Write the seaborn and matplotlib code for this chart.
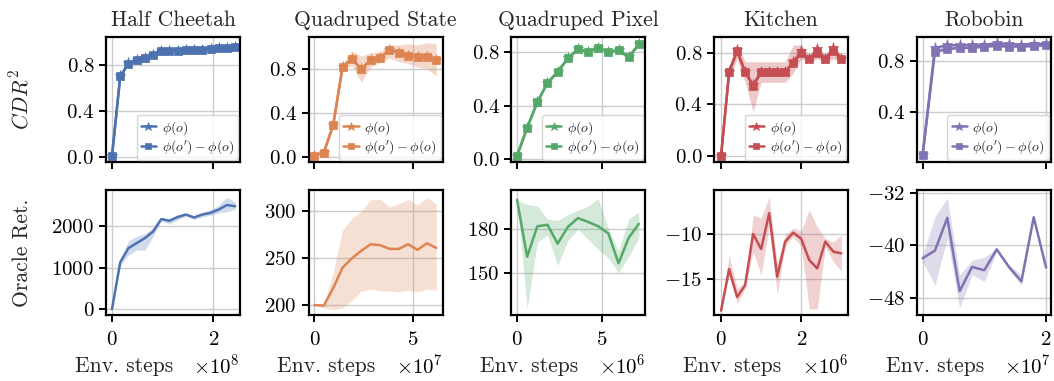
import matplotlib
matplotlib.use("Agg")
import matplotlib.pyplot as plt
from matplotlib.ticker import MultipleLocator
import seaborn as sns

# ---------------------------------------------------------------- data
tasks = ["Half Cheetah", "Quadruped State", "Quadruped Pixel", "Kitchen", "Robobin"]

# Half Cheetah
hc_steps = [0.0, 1.62e7, 3.24e7, 4.86e7, 6.48e7, 8.10e7, 9.72e7, 1.134e8, 1.296e8,
            1.458e8, 1.620e8, 1.782e8, 1.944e8, 2.106e8, 2.268e8, 2.430e8]
hc_cdr_obs = [0.01, 0.70, 0.815, 0.845, 0.865, 0.89, 0.92, 0.92, 0.925, 0.93, 0.93,
              0.93, 0.935, 0.945, 0.95, 0.96]
hc_cdr_diff = [0.01, 0.70, 0.81, 0.84, 0.86, 0.89, 0.92, 0.92, 0.925, 0.93, 0.93,
               0.93, 0.935, 0.945, 0.95, 0.96]
hc_cdr_lo = [0.0, 0.69, 0.80, 0.83, 0.85, 0.88, 0.91, 0.91, 0.915, 0.92, 0.92,
             0.92, 0.925, 0.935, 0.94, 0.95]
hc_cdr_hi = [0.02, 0.71, 0.82, 0.85, 0.87, 0.90, 0.93, 0.93, 0.935, 0.94, 0.94,
             0.94, 0.945, 0.955, 0.96, 0.97]
hc_ret = [0, 1130, 1470, 1590, 1710, 1870, 2170, 2130, 2220, 2280, 2210, 2280,
          2320, 2400, 2510, 2480]
hc_ret_lo = [0, 1050, 1300, 1420, 1420, 1750, 2120, 2050, 2150, 2240, 2160, 2220,
             2260, 2320, 2350, 2400]
hc_ret_hi = [0, 1180, 1650, 1750, 1820, 1960, 2210, 2180, 2280, 2300, 2250, 2330,
             2400, 2500, 2700, 2580]

# Quadruped State
qs_steps = [0.0, 4.77e6, 9.54e6, 1.431e7, 1.908e7, 2.385e7, 2.862e7, 3.339e7,
            3.816e7, 4.293e7, 4.770e7, 5.247e7, 5.724e7, 6.201e7]
qs_cdr_obs = [0.012, 0.04, 0.29, 0.82, 0.895, 0.80, 0.885, 0.905, 0.975, 0.95,
              0.92, 0.915, 0.915, 0.88]
qs_cdr_diff = [0.012, 0.04, 0.29, 0.82, 0.895, 0.80, 0.885, 0.905, 0.975, 0.95,
               0.92, 0.915, 0.915, 0.88]
qs_cdr_lo = [0.0, 0.03, 0.27, 0.80, 0.83, 0.68, 0.82, 0.86, 0.90, 0.87, 0.85,
             0.82, 0.80, 0.74]
qs_cdr_hi = [0.02, 0.05, 0.31, 0.84, 0.97, 0.92, 0.95, 0.96, 1.02, 1.02, 1.03,
             1.02, 1.04, 1.03]
qs_ret = [200, 199.5, 218, 240, 250, 258, 265, 264, 260, 260, 265, 259, 266, 261]
qs_ret_lo = [200, 197, 195, 197, 205, 215, 217, 215, 215, 214, 216, 214, 217, 216]
qs_ret_hi = [200, 200, 235, 280, 293, 300, 313, 313, 305, 308, 313, 307, 315, 308]

# Quadruped Pixel
qp_steps = [0.0, 6.0e5, 1.2e6, 1.8e6, 2.4e6, 3.0e6, 3.6e6, 4.2e6, 4.8e6, 5.4e6,
            6.0e6, 6.6e6, 7.2e6]
qp_cdr_obs = [0.025, 0.235, 0.425, 0.57, 0.65, 0.75, 0.82, 0.80, 0.83, 0.80, 0.81,
              0.76, 0.855]
qp_cdr_diff = [0.025, 0.235, 0.425, 0.57, 0.65, 0.75, 0.82, 0.80, 0.83, 0.80, 0.81,
               0.76, 0.855]
qp_cdr_lo = [0.015, 0.225, 0.415, 0.56, 0.64, 0.74, 0.81, 0.79, 0.82, 0.79, 0.80,
             0.745, 0.845]
qp_cdr_hi = [0.035, 0.245, 0.435, 0.58, 0.66, 0.76, 0.83, 0.81, 0.84, 0.81, 0.82,
             0.775, 0.87]
qp_ret = [200.3, 161, 182, 183, 170, 181.5, 187.6, 185, 182, 177, 156.5, 174, 183.7]
qp_ret_lo = [200, 125, 171, 176, 155, 172, 180, 173, 166, 160, 150, 161, 174]
qp_ret_hi = [200, 197, 196, 187, 186, 190, 193, 196, 201, 180, 165, 187, 192]

# Kitchen
kit_steps = [0.0, 2e5, 4e5, 6e5, 8e5, 1.0e6, 1.2e6, 1.4e6, 1.6e6, 1.8e6, 2.0e6,
             2.2e6, 2.4e6, 2.6e6, 2.8e6, 3.0e6]
kit_cdr_obs = [0.0, 0.65, 0.82, 0.65, 0.55, 0.65, 0.65, 0.65, 0.65, 0.73, 0.81,
               0.75, 0.83, 0.75, 0.84, 0.75]
kit_cdr_diff = [0.0, 0.65, 0.81, 0.65, 0.54, 0.65, 0.65, 0.65, 0.65, 0.72, 0.80,
                0.75, 0.80, 0.75, 0.81, 0.75]
kit_cdr_lo = [0.0, 0.60, 0.75, 0.57, 0.34, 0.57, 0.57, 0.57, 0.57, 0.64, 0.75,
              0.73, 0.75, 0.73, 0.75, 0.73]
kit_cdr_hi = [0.0, 0.70, 0.87, 0.73, 0.73, 0.73, 0.73, 0.73, 0.73, 0.86, 0.86,
              0.78, 0.86, 0.78, 0.87, 0.78]
kit_ret = [-18.6, -13.95, -17.07, -15.75, -10.0, -11.7, -7.67, -14.8, -10.86,
           -9.85, -10.56, -12.93, -13.87, -10.86, -11.99, -12.18]
kit_ret_lo = [-18.6, -14.6, -17.8, -16.1, -12.0, -14.6, -9.2, -16.7, -11.4,
              -10.3, -11.4, -18.4, -18.4, -11.4, -13.1, -14.2]
kit_ret_hi = [-18.6, -12.4, -16.1, -15.4, -7.9, -8.2, -5.9, -13.3, -10.1,
              -9.3, -9.7, -7.3, -9.2, -10.5, -10.9, -10.1]

# Robobin
rb_steps = [0.0, 2e6, 4e6, 6e6, 8e6, 1.0e7, 1.2e7, 1.4e7, 1.6e7, 1.8e7, 2.0e7]
rb_cdr_obs = [0.07, 0.90, 0.92, 0.92, 0.92, 0.925, 0.935, 0.93, 0.925, 0.93, 0.93]
rb_cdr_diff = [0.07, 0.87, 0.89, 0.90, 0.90, 0.91, 0.915, 0.91, 0.91, 0.915, 0.92]
rb_cdr_lo = [0.06, 0.86, 0.88, 0.89, 0.89, 0.90, 0.905, 0.90, 0.90, 0.905, 0.91]
rb_cdr_hi = [0.08, 0.91, 0.93, 0.93, 0.93, 0.935, 0.945, 0.94, 0.935, 0.94, 0.94]
rb_ret = [-41.97, -40.8, -35.8, -47.0, -43.3, -43.8, -40.6, -43.3, -45.5, -35.7, -43.4]
rb_ret_lo = [-42.5, -46.1, -38.9, -49.6, -44.5, -45.5, -41.0, -43.8, -46.1, -35.7, -43.4]
rb_ret_hi = [-41.5, -35.6, -32.8, -44.5, -42.3, -41.8, -40.5, -43.0, -44.5, -35.7, -43.4]

legend_labels = [r"$\phi(o)$", r"$\phi(o') - \phi(o)$"]

# ---------------------------------------------------------------- style
sns.set_style("whitegrid", {
    "axes.edgecolor": "black",
    "grid.color": ".8",
    "xtick.bottom": True,
    "ytick.left": True,
})
palette = sns.color_palette("deep")
plt.rcParams.update({
    "font.family": "serif",
    "font.serif": ["cmr10"],
    "mathtext.fontset": "cm",
    "axes.formatter.use_mathtext": True,
    "axes.unicode_minus": True,
    "axes.linewidth": 1.6,
    "xtick.major.width": 1.4,
    "ytick.major.width": 1.4,
    "xtick.major.size": 5,
    "ytick.major.size": 5,
    "xtick.major.pad": 6.5,
    "ytick.major.pad": 3.5,
    "xtick.color": "black",
    "ytick.color": "black",
    "xtick.labelsize": 15,
    "ytick.labelsize": 15,
    "axes.titlesize": 15.5,
    "axes.labelsize": 15.5,
    "axes.labelpad": 2,
    "grid.linewidth": 1.0,
})

panels = [
    dict(steps=hc_steps, obs=hc_cdr_obs, diff=hc_cdr_diff, clo=hc_cdr_lo, chi=hc_cdr_hi,
         ret=hc_ret, rlo=hc_ret_lo, rhi=hc_ret_hi, xstep=2e8,
         cylim=(-0.044, 1.044), rylim=(-145, 2871), rstep=1000, xlim=(-0.118e8, 2.526e8)),
    dict(steps=qs_steps, obs=qs_cdr_obs, diff=qs_cdr_diff, clo=qs_cdr_lo, chi=qs_cdr_hi,
         ret=qs_ret, rlo=qs_ret_lo, rhi=qs_ret_hi, xstep=5e7,
         cylim=(-0.046, 1.093), rylim=(189.3, 322.9), rstep=50, xlim=(-0.29e7, 6.53e7)),
    dict(steps=qp_steps, obs=qp_cdr_obs, diff=qp_cdr_diff, clo=qp_cdr_lo, chi=qp_cdr_hi,
         ret=qp_ret, rlo=qp_ret_lo, rhi=qp_ret_hi, xstep=5e6,
         cylim=(-0.02, 0.91), rylim=(120.7, 207), rstep=30, xlim=(-0.33e6, 7.59e6)),
    dict(steps=kit_steps, obs=kit_cdr_obs, diff=kit_cdr_diff, clo=kit_cdr_lo, chi=kit_cdr_hi,
         ret=kit_ret, rlo=kit_ret_lo, rhi=kit_ret_hi, xstep=2e6,
         cylim=(-0.05, 0.923), rylim=(-19.1, -5.08), rstep=5, xlim=(-0.173e6, 3.17e6)),
    dict(steps=rb_steps, obs=rb_cdr_obs, diff=rb_cdr_diff, clo=rb_cdr_lo, chi=rb_cdr_hi,
         ret=rb_ret, rlo=rb_ret_lo, rhi=rb_ret_hi, xstep=2e7,
         cylim=(0.016, 0.984), rylim=(-50.66, -31.54), rstep=8, xlim=(-0.093e7, 2.077e7)),
]

fig, axes = plt.subplots(
    2, 5, figsize=(10.54, 3.81), dpi=100, sharex="col",
    gridspec_kw=dict(left=0.1006, right=0.997, top=0.903, bottom=0.173,
                     wspace=0.513, hspace=0.224),
)

for i, (task, p) in enumerate(zip(tasks, panels)):
    color = palette[i]
    ax_top, ax_bot = axes[0, i], axes[1, i]

    # representation quality (CDR^2)
    ax_top.fill_between(p["steps"], p["clo"], p["chi"], color=color, alpha=0.3, lw=0)
    sns.lineplot(x=p["steps"], y=p["obs"], ax=ax_top, color=color, lw=1.8,
                 marker="*", markersize=8, markeredgecolor=color, markeredgewidth=0.5,
                 label=legend_labels[0])
    sns.lineplot(x=p["steps"], y=p["diff"], ax=ax_top, color=color, lw=1.8,
                 marker="s", markersize=6, markeredgecolor=color, markeredgewidth=0.5,
                 label=legend_labels[1])
    ax_top.set_ylim(*p["cylim"])
    ax_top.yaxis.set_major_locator(MultipleLocator(0.4))
    ax_top.set_title(task, pad=8)
    ax_top.legend(loc="lower right", fontsize=10, handlelength=1.1,
                  handletextpad=0.4, borderpad=0.3, labelspacing=0.1,
                  borderaxespad=0.15, framealpha=0.8, markerscale=0.8)

    # oracle return
    ax_bot.fill_between(p["steps"], p["rlo"], p["rhi"], color=color, alpha=0.25, lw=0)
    sns.lineplot(x=p["steps"], y=p["ret"], ax=ax_bot, color=color, lw=1.8)
    ax_bot.set_ylim(*p["rylim"])
    ax_bot.yaxis.set_major_locator(MultipleLocator(p["rstep"]))
    ax_bot.xaxis.set_major_locator(MultipleLocator(p["xstep"]))
    ax_bot.set_xlim(*p["xlim"])
    ax_bot.set_xlabel("Env. steps", ha="right")
    ax_bot.xaxis.set_label_coords(0.5, -0.335)
    ax_bot.xaxis.label.set_va("top")

    for ax in (ax_top, ax_bot):
        ax.set_ylabel("")
        for sp in ax.spines.values():
            sp.set_visible(True)
            sp.set_color("black")

axes[0, 0].set_ylabel(r"$CDR^2$")
axes[1, 0].set_ylabel("Oracle Ret.")
axes[0, 0].yaxis.set_label_coords(-0.55, 0.5)
axes[1, 0].yaxis.set_label_coords(-0.55, 0.5)

fig.savefig("out.png", dpi=100)
